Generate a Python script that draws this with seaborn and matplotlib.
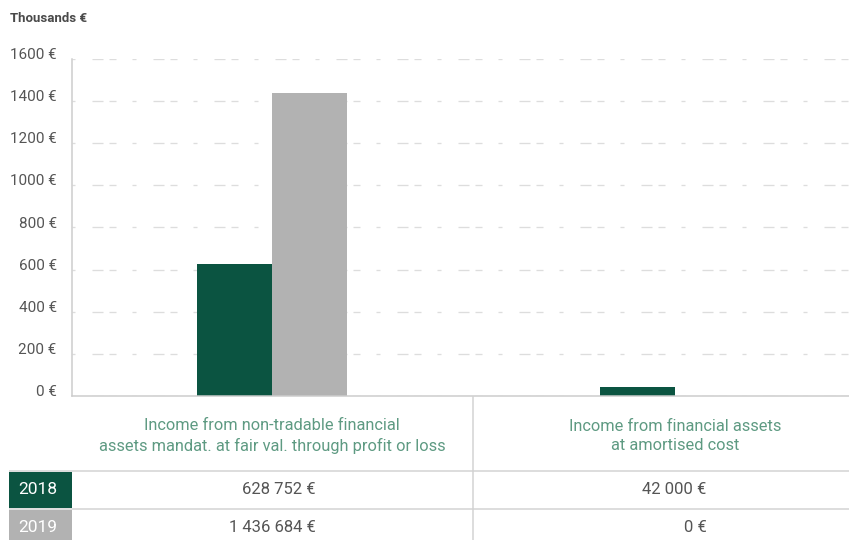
import matplotlib
matplotlib.use("Agg")
import matplotlib.pyplot as plt
import matplotlib.transforms as mtransforms
from matplotlib.patches import Rectangle
import seaborn as sns
import pandas as pd

# ---- data (thousands of euros) ----
categories = [
    "Income from non-tradable financial\nassets mandat. at fair val. through profit or loss",
    "Income from financial assets\nat amortised cost",
]
years = ["2018", "2019"]
values_2018 = [628.752, 42.0]
values_2019 = [1436.684, 0.0]
y_ticks = [0, 200, 400, 600, 800, 1000, 1200, 1400, 1600]

GREEN = "#0b5441"
GREY = "#b2b2b2"
HEADER = "#5e9a82"
TEXT = "#555555"
LINE = "#d2d2d2"

df = pd.DataFrame({
    "category": categories * 2,
    "year": [years[0]] * 2 + [years[1]] * 2,
    "value": values_2018 + values_2019,
})


def fmt_eur(thousands):
    v = int(round(thousands * 1000))
    return f"{v:,}".replace(",", " ") + " €"


sns.set_theme(style="white")
plt.rcParams["font.family"] = ["Roboto", "DejaVu Sans"]
plt.rcParams["lines.scale_dashes"] = False

W, H = 849, 540
fig = plt.figure(figsize=(W / 100, H / 100), dpi=100)
fig.patch.set_facecolor("white")

# chart area
x0, x1, y_top, y_base = 72, 849, 59, 396
ax = fig.add_axes([x0 / W, (H - y_base) / H, (x1 - x0) / W, (y_base - y_top) / H])
sns.barplot(data=df, x="category", y="value", hue="year", order=categories,
            hue_order=years, palette=[GREEN, GREY], width=0.372, gap=0,
            saturation=1, linewidth=0, legend=False, ax=ax)
ax.set_xlim(-0.496, 1.432)
ax.set_ylim(0, 1600)
ax.set_xticks([])
ax.set_xlabel("")
ax.set_ylabel("")
ax.set_yticks(y_ticks)
ax.set_yticklabels([f"{t} €" for t in y_ticks])
ax.tick_params(axis="y", length=0, pad=11, labelsize=11, labelcolor=TEXT)
for lbl in ax.get_yticklabels():
    lbl.set_verticalalignment("baseline")

px = 0.72  # points per pixel
dash = (41 * px, [11 * px, 6 * px, 7 * px, 16 * px, 4 * px, 17 * px])
ax.set_axisbelow(True)
ax.grid(axis="y", color="#dddddd", linewidth=1.3 * px, linestyle=dash)
ax.grid(axis="x", visible=False)
for s in ("top", "right"):
    ax.spines[s].set_visible(False)
for s in ("left", "bottom"):
    ax.spines[s].set_color("#cccccc")
    ax.spines[s].set_linewidth(1.5 * px)

# table below the chart, in pixel rows
tab = fig.add_axes([0, 0, 1, (H - y_base) / H])
tab.set_xlim(0, W)
tab.set_ylim(H, y_base)
tab.axis("off")
bt = mtransforms.blended_transform_factory(ax.transData, tab.transData)

for i, cat in enumerate(categories):
    tab.text(i, 436, cat, transform=bt, ha="center", va="center",
             fontsize=11.8, color=HEADER, linespacing=1.32)

row_y = [490, 528]
value_right = [0.109, 1.079]
for r, vals in enumerate([values_2018, values_2019]):
    for i, v in enumerate(vals):
        tab.text(value_right[i], row_y[r], fmt_eur(v), transform=bt,
                 ha="right", va="center", fontsize=12, color=TEXT)

# row separators and column divider
for yy in (471, 509):
    tab.plot([9, W], [yy, yy], color=LINE, lw=1.5 * px, solid_capstyle="butt")
tab.plot([0.5, 0.5], [y_base, H], transform=bt, color=LINE, lw=1.5 * px)

# year label cells
cells = [(472, 36, GREEN), (510, 32, GREY)]
for (top, h, col), yr, yy in zip(cells, years, row_y):
    tab.add_patch(Rectangle((9, top), 63, h, facecolor=col, edgecolor="none"))
    tab.text(38, yy, yr, ha="center", va="center", fontsize=12.5, color="white")

fig.text(10 / W, 1 - 18 / H, "Thousands €", fontsize=9.5, fontweight="bold",
         color="#4a4a4a", ha="left", va="center")

fig.savefig("out.png", dpi=100, facecolor="white")
